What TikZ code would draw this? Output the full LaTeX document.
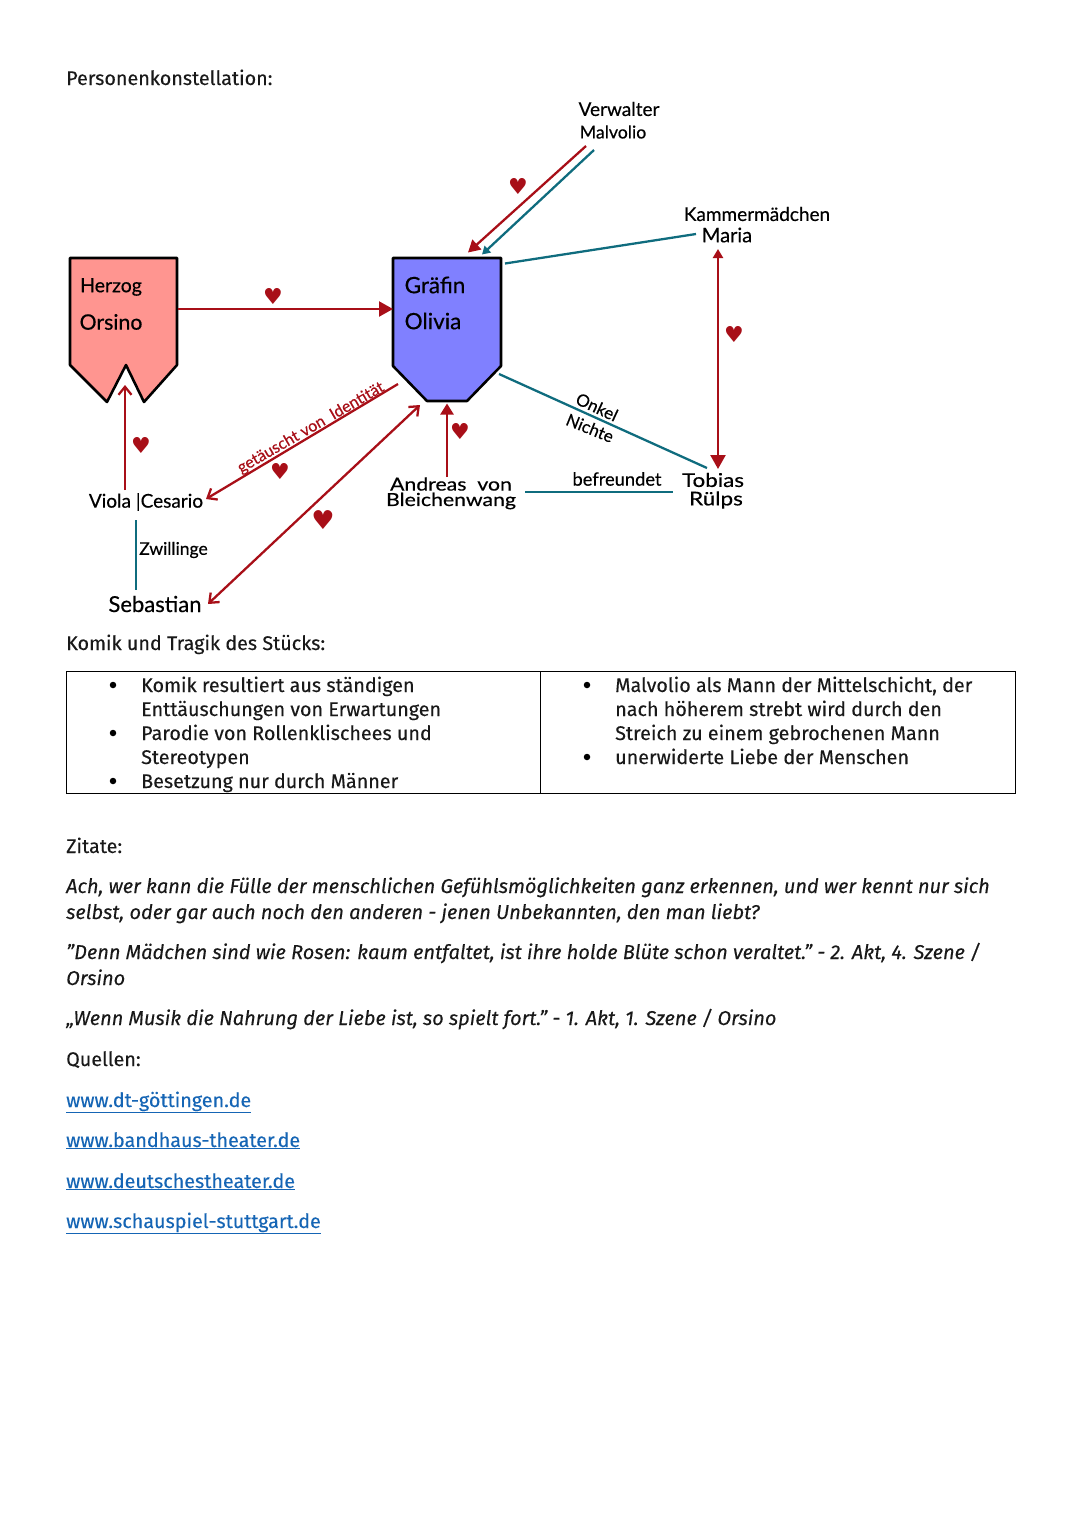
\documentclass[tikz,border=0pt]{standalone}
\usepackage{fontspec}
\setmainfont[FakeBold=0.15]{Fira Sans}
\newfontfamily\handfont[FakeBold=0.4]{Lato}
\newfontfamily\heartfont{DejaVu Sans}
\usetikzlibrary{arrows.meta}

\definecolor{herzred}{HTML}{A80F18}
\definecolor{petrol}{HTML}{0F6C7E}
\definecolor{rosa}{HTML}{FF9590}
\definecolor{lila}{HTML}{8080FF}
\definecolor{linkblue}{HTML}{1565B5}

\tikzset{
	zeile/.style={anchor=base west,inner sep=0pt,font=\fontsize{19.75}{24}\selectfont,text=black!90},
	zitat/.style={zeile,font=\fontsize{20}{24}\selectfont\itshape},
	quelle/.style={zeile,text=linkblue},
	punkt/.style={circle,fill=black,inner sep=0pt,minimum size=6.5pt},
	hand/.style={inner sep=0pt,font=\handfont\fontsize{#1}{#1}\selectfont},
	hand/.default=19,
	breit/.style={xscale=1.18,transform shape},
	herz/.style={inner sep=0pt,text=herzred,font=\heartfont\fontsize{#1}{#1}\selectfont},
	herz/.default=22,
	feld/.style={inner sep=0pt,outer sep=0pt,minimum width=108pt,minimum height=144pt},
	liebe/.style={draw=herzred,line width=0.8mm},
	verwandt/.style={draw=petrol,line width=0.8mm}
}

\begin{document}
\begin{tikzpicture}[x=1pt,y=-1pt]
	\useasboundingbox[fill=white] (0,0) rectangle (1080,1527);

	\draw (66,85) node (titel) [zeile] {Personenkonstellation:};

	\draw[line width=0.9mm,fill=rosa,line join=round] (70,258) -- (177,258) -- (177,365) -- (144,402) -- (126,365) -- (107,402) -- (70,365) -- cycle;
	\draw[line width=0.9mm,fill=lila,line join=round] (393,258) -- (501,258) -- (501,366) -- (467,401) -- (427,401) -- (393,366) -- cycle;

	\draw (123.5,330) node (herzog) [feld] {};
	\draw (447,329.5) node (olivia) [feld] {};

	\draw (111,287) node (hz) [hand=19.5] {Herzog};
	\draw (111,322) node (or) [hand=21.3] {Orsino};
	\draw (435,285) node (gr) [hand=22.5] {Gräfin};
	\draw (433,321) node (ol) [hand=22.5] {Olivia};

	\draw (146,502) node (viola) [hand] {Viola |Cesario};
	\draw (173.5,550) node (zwil) [hand=17.5] {Zwillinge};
	\draw (155,604) node (seb) [hand=22] {Sebastian};
	\draw (451,484) node (andreas) [hand=18,breit] {Andreas\ \ von};
	\draw (451,501) node (bleich) [hand=18,breit] {Bleichenwang};
	\draw (619,109) node (verw) [hand=19] {Verwalter};
	\draw (613,132) node (malv) [hand=17.7] {Malvolio};
	\draw (757,214) node (kammer) [hand=19] {Kammermädchen};
	\draw (727,235) node (maria) [hand=20] {Maria};
	\draw (713,480) node (tobias) [hand=19,breit] {Tobias};
	\draw (716,500) node (ruelps) [hand=19,breit] {Rülps};
	\draw (617,479) node (freund) [hand=18.3] {befreundet};
	\draw (597,407) node (onkel) [hand=17,rotate=-25] {Onkel};
	\draw (590,428) node (nichte) [hand=17,rotate=-22] {Nichte};
	\draw (311,428) node (ident) [hand=16,text=herzred,rotate=30] {getäuscht von\ \ Identität};

	\draw (273,296) node (h1) [herz] {♥};
	\draw (141,445) node (h2) [herz] {♥};
	\draw (280,471) node (h3) [herz] {♥};
	\draw (323,520) node (h4) [herz=26] {♥};
	\draw (460,431) node (h5) [herz] {♥};
	\draw (518,186) node (h6) [herz] {♥};
	\draw (734,334) node (h7) [herz] {♥};

	\draw[liebe,-{Triangle[length=14pt,width=15pt]}] ([yshift=21pt]herzog.east) -- ([yshift=20.5pt]olivia.west);
	\draw[liebe,-{Straight Barb[length=8pt,width=13pt]}] ([xshift=-21pt,yshift=12pt]viola.center) -- ([xshift=1.5pt,yshift=17pt]herzog.south);
	\draw[liebe,-{Straight Barb[length=8pt,width=13pt]}] ([xshift=-49pt,yshift=-54.5pt]olivia.center) -- ([xshift=60pt,yshift=3pt]viola.center);
	\draw[liebe,{Straight Barb[length=8pt,width=13pt]}-{Straight Barb[length=8pt,width=13pt]}] ([xshift=53pt]seb.center) -- ([xshift=-27pt,yshift=-75.5pt]olivia.center);
	\draw[liebe,-{Triangle[length=11pt,width=13pt]}] ([xshift=-4pt,yshift=7pt]andreas.center) -- ([yshift=-2pt]olivia.south);
	\draw[liebe,-{Triangle[length=12pt,width=13pt]}] ([xshift=-27pt,yshift=-14pt]malv.center) -- ([xshift=21pt,yshift=5pt]olivia.north);
	\draw[liebe,{Triangle[length=9pt,width=10pt]}-{Triangle[length=14pt,width=15pt]}] ([xshift=-9pt,yshift=-14pt]maria.center) -- ([xshift=5pt,yshift=11pt]tobias.center);

	\draw[verwandt,-{Triangle[length=8pt,width=9pt]}] ([xshift=-19pt,yshift=-18pt]malv.center) -- ([xshift=35pt,yshift=3pt]olivia.north);
	\draw[verwandt] ([xshift=4pt,yshift=-6pt]olivia.north east) -- ([xshift=-31pt,yshift=1pt]maria.center);
	\draw[verwandt] ([xshift=52pt,yshift=-44.5pt]olivia.center) -- ([xshift=-6pt,yshift=12pt]tobias.center);
	\draw[verwandt] ([xshift=74pt,yshift=-8pt]andreas.center) -- ([xshift=-43pt,yshift=8pt]ruelps.center);
	\draw[verwandt] ([xshift=-10pt,yshift=-18pt]viola.center) -- ([xshift=-19pt,yshift=14pt]seb.center);

	\draw (66,650) node (komik) [zeile] {Komik und Tragik des Stücks:};

	\draw[line width=0.35mm] (66,671) rectangle (1015,793);
	\draw[line width=0.35mm] (540,671) -- (540,793);

	\foreach \ypos/\txt in {692/{Komik resultiert aus ständigen},716/{Enttäuschungen von Erwartungen},740/{Parodie von Rollenklischees und},764/{Stereotypen},788/{Besetzung nur durch Männer}}
		\draw (141,\ypos) node (links\ypos) [zeile] {\txt};
	\foreach \ypos/\txt in {692/{Malvolio als Mann der Mittelschicht, der},716/{nach höherem strebt wird durch den},740/{Streich zu einem gebrochenen Mann},764/{unerwiderte Liebe der Menschen}}
		\draw (615,\ypos) node (rechts\ypos) [zeile] {\txt};
	\foreach \xpos/\ypos in {113/685,113/733,113/781,587/685,587/757}
		\draw (\xpos,\ypos) node (bull\xpos\ypos) [punkt] {};

	\draw (66,853) node (zitate) [zeile] {Zitate:};
	\foreach \ypos/\txt in {893/{Ach, wer kann die Fülle der menschlichen Gefühlsmöglichkeiten ganz erkennen, und wer kennt nur sich},919/{selbst, oder gar auch noch den anderen - jenen Unbekannten, den man liebt?},959/{"Denn Mädchen sind wie Rosen: kaum entfaltet, ist ihre holde Blüte schon veraltet." - 2. Akt, 4. Szene /},985/{Orsino},1025/{„Wenn Musik die Nahrung der Liebe ist, so spielt fort." - 1. Akt, 1. Szene / Orsino}}
		\draw (66,\ypos) node (zitat\ypos) [zitat] {\txt};

	\draw (66,1066) node (quellen) [zeile] {Quellen:};
	\foreach \ypos/\txt in {1107/{www.dt-göttingen.de},1147/{www.bandhaus-theater.de},1188/{www.deutschestheater.de},1228/{www.schauspiel-stuttgart.de}}
		\draw (66,\ypos) node (link\ypos) [quelle] {\underline{\txt}};
\end{tikzpicture}
\end{document}
